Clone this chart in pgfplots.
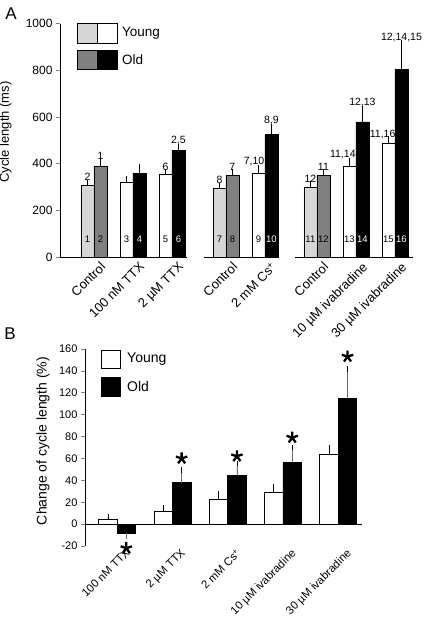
\documentclass[border=0pt]{standalone}
\usepackage{pgfplots}
\pgfplotsset{compat=1.18}
\usepackage{fontspec}
\setmainfont{Liberation Sans}
\definecolor{lgray}{HTML}{D6D6D6}
\definecolor{dgray}{HTML}{808080}
\definecolor{ebgray}{HTML}{6E6E6E}
\newcommand{\fs}[1]{\fontsize{#1}{#1}\selectfont}
\pgfplotsset{
  barA/.style={ybar, bar width=13pt, bar shift=0pt, draw=black, line width=0.6pt,
    error bars/y dir=plus, error bars/y explicit,
    error bars/error bar style={black, line width=0.6pt},
    error bars/error mark options={black, mark size=2.6pt, line width=0.6pt}},
  barB/.style={ybar, bar width=18.5pt, bar shift=0pt, draw=black, line width=0.6pt,
    error bars/y explicit,
    error bars/error bar style={black, line width=0.6pt},
    error bars/error mark options={black, mark size=2.8pt, line width=0.6pt}},
}
\begin{document}
\begin{tikzpicture}[x=1pt,y=1pt]
\path[use as bounding box] (0,0) rectangle (428,624);

% ---------------- Panel A ----------------
\begin{axis}[
  at={(60pt,367pt)}, anchor=south west,
  x=39pt, y=0.2333pt,
  xmin=-0.87, xmax=8.18, ymin=0, ymax=1000,
  axis lines=left, axis line style={-, line width=0.7pt},
  x axis line style={draw=none},
  ytick={0,200,...,1000}, tick align=outside, major tick length=4pt,
  ytick pos=left, ytick style={line width=0.7pt},
  xtick={0,1,2,3.385,4.385,5.718,6.718,7.718},
  xticklabels={Control, 100 nM TTX, 2 µM TTX, Control, 2 mM Cs\textsuperscript{+}, Control, 10 µM ivabradine, 30 µM ivabradine},
  xtick style={draw=none},
  xticklabel style={rotate=45, anchor=north east, font=\fs{13}, inner sep=1pt, xshift=5pt, yshift=-3pt},
  yticklabel style={font=\fs{12}},
  /pgf/number format/assume math mode=true,
  /pgf/number format/1000 sep={},
  ylabel={Cycle length (ms)},
  ylabel style={font=\fs{13}, at={(axis description cs:-0.127,0.536)}, anchor=south},
  clip=false,
]
% young control (light gray)
\addplot[barA, fill=lgray] coordinates {
  (-0.1667,307) +- (0,13)
  (3.218,293) +- (0,13)
  (5.551,299) +- (0,14)
};
% old control (dark gray)
\addplot[barA, fill=dgray] coordinates {
  (0.1667,390) +- (0,20)
  (3.551,349) +- (0,15)
  (5.885,350) +- (0,14)
};
% young treatment (white)
\addplot[barA, fill=white] coordinates {
  (0.8333,320) +- (0,15)
  (1.8333,355) +- (0,9)
  (4.218,360) +- (0,23)
  (6.551,389) +- (0,24)
  (7.551,486) +- (0,21)
};
% old treatment (black)
\addplot[barA, fill=black] coordinates {
  (1.1667,358) +- (0,30)
  (2.1667,457) +- (0,17)
  (4.551,524) +- (0,35)
  (6.885,579) +- (0,57)
  (7.885,803) +- (0,114)
};
% x axis segments
\draw[line width=0.7pt] (axis cs:-0.87,0) -- (axis cs:2.38,0);
\draw[line width=0.7pt] (axis cs:2.82,0) -- (axis cs:4.72,0);
\draw[line width=0.7pt] (axis cs:5.15,0) -- (axis cs:8.18,0);
% labels above bars
\begin{scope}[every node/.style={font=\fs{10.5}, anchor=south, inner sep=1pt}]
\node at (axis cs:-0.1667,322) {2};
\node at (axis cs:0.1667,412) {1};
\node at (axis cs:1.8333,366) {6};
\node at (axis cs:2.1667,476) {2,5};
\node at (axis cs:3.218,308) {8};
\node at (axis cs:3.551,366) {7};
\node[anchor=south east] at (axis cs:4.40,385) {7,10};
\node at (axis cs:4.551,561) {8,9};
\node at (axis cs:5.551,315) {12};
\node at (axis cs:5.885,366) {11};
\node[anchor=south east] at (axis cs:6.74,415) {11,14};
\node at (axis cs:6.885,638) {12,13};
\node[anchor=south east] at (axis cs:7.76,500) {11,16};
\node at (axis cs:7.885,919) {12,14,15};
\end{scope}
% numbers inside bars
\begin{scope}[every node/.style={font=\fs{9.5}, inner sep=0pt}]
\node at (axis cs:-0.1667,75) {1};
\node at (axis cs:0.1667,75) {2};
\node at (axis cs:0.8333,75) {3};
\node[text=white] at (axis cs:1.1667,75) {4};
\node at (axis cs:1.8333,75) {5};
\node[text=white] at (axis cs:2.1667,75) {6};
\node at (axis cs:3.218,75) {7};
\node at (axis cs:3.551,75) {8};
\node at (axis cs:4.218,75) {9};
\node[text=white] at (axis cs:4.551,75) {10};
\node at (axis cs:5.551,75) {11};
\node at (axis cs:5.885,75) {12};
\node at (axis cs:6.551,75) {13};
\node[text=white] at (axis cs:6.885,75) {14};
\node at (axis cs:7.551,75) {15};
\node[text=white] at (axis cs:7.885,75) {16};
\end{scope}
\end{axis}

% legend A
\draw[fill=lgray, line width=0.6pt] (77,581) rectangle (97,601);
\draw[fill=white, line width=0.6pt] (97,581) rectangle (117,601);
\draw[fill=dgray, line width=0.6pt] (77,555) rectangle (97,574);
\draw[fill=black, line width=0.6pt] (97,555) rectangle (117,574);
\node[anchor=west, font=\fs{13.5}, inner sep=0pt] at (122,591) {Young};
\node[anchor=west, font=\fs{13.5}, inner sep=0pt] at (122,564.5) {Old};

% panel letters
\node[font=\fs{17}] at (11,610) {A};
\node[font=\fs{17}] at (10,290) {B};

% ---------------- Panel B ----------------
\begin{axis}[
  at={(85pt,78pt)}, anchor=south west,
  x=55.3pt, y=1.0944pt,
  xmin=-0.58, xmax=4.43, ymin=-20, ymax=160,
  axis lines=left, axis line style={-, line width=0.7pt},
  x axis line style={draw=none},
  ytick={-20,0,...,160}, tick align=outside, major tick length=4pt,
  ytick pos=left, ytick style={line width=0.7pt},
  xtick={0,1,2,3,4},
  xticklabels={100 nM TTX, 2 µM TTX, 2 mM Cs\textsuperscript{+}, 10 µM ivabradine, 30 µM ivabradine},
  xtick style={draw=none},
  xticklabel style={rotate=45, anchor=north east, font=\fs{11.3}, inner sep=1pt, xshift=8pt, yshift=-3pt},
  yticklabel style={font=\fs{11}},
  /pgf/number format/assume math mode=true,
  ylabel={Change of cycle length (\%)},
  ylabel style={font=\fs{14}, at={(axis description cs:-0.1155,0.533)}, anchor=south},
  clip=false,
]
\draw[line width=0.7pt] (axis cs:-0.58,0) -- (axis cs:4.43,0);
% young (white)
\addplot[barB, fill=white, error bars/y dir=plus] coordinates {
  (-0.1673,4.6) +- (0,2.1)
  (0.8327,11.3) +- (0,3.3)
  (1.8327,22.3) +- (0,5.1)
  (2.8327,29.3) +- (0,5.2)
  (3.8327,63.7) +- (0,6.4)
};
% old (black), positive
\addplot[barB, fill=black, error bars/y dir=plus,
  error bars/error bar style={ebgray, line width=0.7pt},
  error bars/error mark options={black, mark size=2.8pt, line width=0.7pt}] coordinates {
  (1.1673,38.0) +- (0,11.4)
  (2.1673,44.8) +- (0,10.4)
  (3.1673,56.7) +- (0,13.4)
  (4.1673,115.2) +- (0,26.3)
};
% old (black), negative
\addplot[barB, fill=black, error bars/y dir=minus,
  error bars/error bar style={ebgray, line width=0.7pt},
  error bars/error mark options={ebgray, mark size=2.8pt, line width=0.7pt}] coordinates {
  (0.1673,-8.5) +- (0,2.8)
};
% significance stars
\addplot[only marks, mark=star, mark size=6pt, line width=2.3pt, black] coordinates {
  (0.1673,-22) (1.1673,60) (2.1673,62) (3.1673,79) (4.1673,153)
};
\end{axis}

% legend B
\draw[fill=white, line width=0.6pt] (101,256) rectangle (120,274);
\draw[fill=black, line width=0.6pt] (101,228) rectangle (120,247);
\node[anchor=west, font=\fs{14}, inner sep=0pt] at (127,265) {Young};
\node[anchor=west, font=\fs{14}, inner sep=0pt] at (127,238) {Old};
\end{tikzpicture}
\end{document}
